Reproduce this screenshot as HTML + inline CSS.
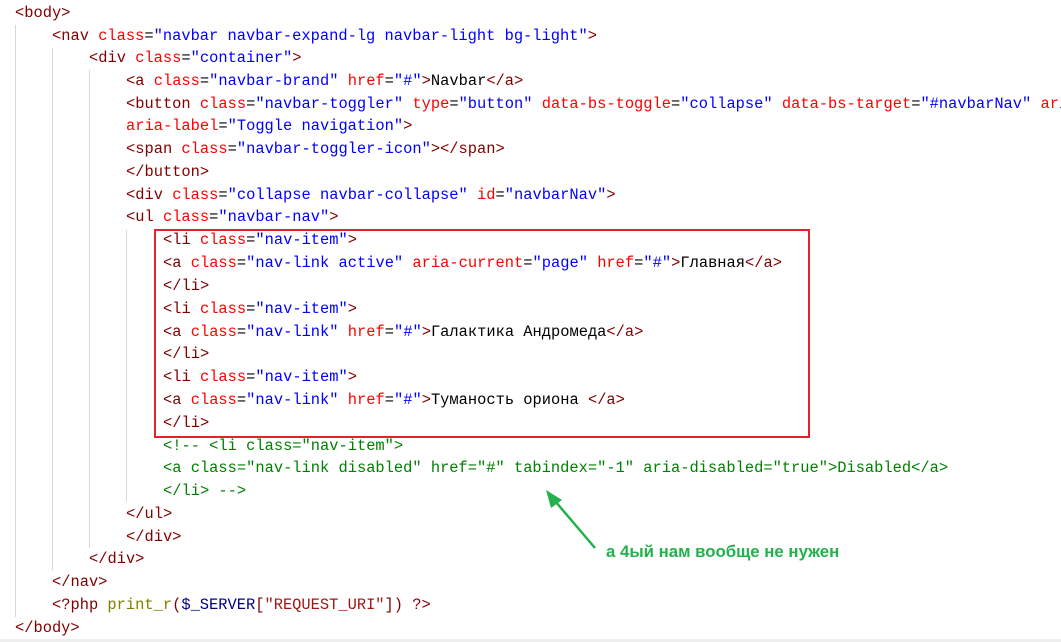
<!DOCTYPE html>
<html><head><meta charset="utf-8"><style>
html,body{margin:0;width:1061px;height:642px;overflow:hidden}
body{background:#fff;position:relative;font-family:"Liberation Mono","DejaVu Sans Mono",monospace;font-size:15.4px}
.l{position:absolute;white-space:pre;height:22px;line-height:22px;overflow:hidden}
.t{color:#800000}.a{color:#ff0000}.v{color:#0000ff}.k{color:#000}.c{color:#008000}
.g{position:absolute;width:1px;background:#d8d8d8}
</style></head><body>
<div class="g" style="left:15px;top:25px;height:592px"></div>
<div class="g" style="left:52px;top:48px;height:522px"></div>
<div class="g" style="left:89px;top:70px;height:478px"></div>
<div class="g" style="left:126px;top:230px;height:272px"></div>
<div class="l" style="left:15px;top:2px"><span class="t">&lt;body&gt;</span></div>
<div class="l" style="left:52px;top:25px"><span class="t">&lt;nav </span><span class="a">class</span><span class="k">=</span><span class="v">"navbar navbar-expand-lg navbar-light bg-light"</span><span class="t">&gt;</span></div>
<div class="l" style="left:89px;top:47px"><span class="t">&lt;div </span><span class="a">class</span><span class="k">=</span><span class="v">"container"</span><span class="t">&gt;</span></div>
<div class="l" style="left:126px;top:70px"><span class="t">&lt;a </span><span class="a">class</span><span class="k">=</span><span class="v">"navbar-brand"</span> <span class="a">href</span><span class="k">=</span><span class="v">"#"</span><span class="t">&gt;</span><span class="k">Navbar</span><span class="t">&lt;/a&gt;</span></div>
<div class="l" style="left:126px;top:93px;width:935px"><span class="t">&lt;button </span><span class="a">class</span><span class="k">=</span><span class="v">"navbar-toggler"</span> <span class="a">type</span><span class="k">=</span><span class="v">"button"</span> <span class="a">data-bs-toggle</span><span class="k">=</span><span class="v">"collapse"</span> <span class="a">data-bs-target</span><span class="k">=</span><span class="v">"#navbarNav"</span> <span class="a">aria-controls</span></div>
<div class="l" style="left:126px;top:115px"><span class="a">aria-label</span><span class="k">=</span><span class="v">"Toggle navigation"</span><span class="t">&gt;</span></div>
<div class="l" style="left:126px;top:138px"><span class="t">&lt;span </span><span class="a">class</span><span class="k">=</span><span class="v">"navbar-toggler-icon"</span><span class="t">&gt;&lt;/span&gt;</span></div>
<div class="l" style="left:126px;top:161px"><span class="t">&lt;/button&gt;</span></div>
<div class="l" style="left:126px;top:184px"><span class="t">&lt;div </span><span class="a">class</span><span class="k">=</span><span class="v">"collapse navbar-collapse"</span> <span class="a">id</span><span class="k">=</span><span class="v">"navbarNav"</span><span class="t">&gt;</span></div>
<div class="l" style="left:126px;top:206px"><span class="t">&lt;ul </span><span class="a">class</span><span class="k">=</span><span class="v">"navbar-nav"</span><span class="t">&gt;</span></div>
<div class="l" style="left:163px;top:229px"><span class="t">&lt;li </span><span class="a">class</span><span class="k">=</span><span class="v">"nav-item"</span><span class="t">&gt;</span></div>
<div class="l" style="left:163px;top:252px"><span class="t">&lt;a </span><span class="a">class</span><span class="k">=</span><span class="v">"nav-link active"</span> <span class="a">aria-current</span><span class="k">=</span><span class="v">"page"</span> <span class="a">href</span><span class="k">=</span><span class="v">"#"</span><span class="t">&gt;</span><span class="k">Главная</span><span class="t">&lt;/a&gt;</span></div>
<div class="l" style="left:163px;top:275px"><span class="t">&lt;/li&gt;</span></div>
<div class="l" style="left:163px;top:298px"><span class="t">&lt;li </span><span class="a">class</span><span class="k">=</span><span class="v">"nav-item"</span><span class="t">&gt;</span></div>
<div class="l" style="left:163px;top:321px"><span class="t">&lt;a </span><span class="a">class</span><span class="k">=</span><span class="v">"nav-link"</span> <span class="a">href</span><span class="k">=</span><span class="v">"#"</span><span class="t">&gt;</span><span class="k">Галактика Андромеда</span><span class="t">&lt;/a&gt;</span></div>
<div class="l" style="left:163px;top:343px"><span class="t">&lt;/li&gt;</span></div>
<div class="l" style="left:163px;top:366px"><span class="t">&lt;li </span><span class="a">class</span><span class="k">=</span><span class="v">"nav-item"</span><span class="t">&gt;</span></div>
<div class="l" style="left:163px;top:389px"><span class="t">&lt;a </span><span class="a">class</span><span class="k">=</span><span class="v">"nav-link"</span> <span class="a">href</span><span class="k">=</span><span class="v">"#"</span><span class="t">&gt;</span><span class="k">Туманость ориона </span><span class="t">&lt;/a&gt;</span></div>
<div class="l" style="left:163px;top:412px"><span class="t">&lt;/li&gt;</span></div>
<div class="l c" style="left:163px;top:435px">&lt;!-- &lt;li class="nav-item"&gt;</div>
<div class="l c" style="left:163px;top:457px">&lt;a class="nav-link disabled" href="#" tabindex="-1" aria-disabled="true"&gt;Disabled&lt;/a&gt;</div>
<div class="l c" style="left:163px;top:480px">&lt;/li&gt; --&gt;</div>
<div class="l" style="left:126px;top:503px"><span class="t">&lt;/ul&gt;</span></div>
<div class="l" style="left:126px;top:526px"><span class="t">&lt;/div&gt;</span></div>
<div class="l" style="left:89px;top:548px"><span class="t">&lt;/div&gt;</span></div>
<div class="l" style="left:52px;top:571px"><span class="t">&lt;/nav&gt;</span></div>
<div class="l" style="left:52px;top:594px"><span class="t">&lt;?php </span><span style="color:#808000">print_r</span><span class="t">(</span><span style="color:#000080">$_SERVER</span><span class="t">[</span><span style="color:#a31515">"REQUEST_URI"</span><span class="t">]) ?&gt;</span></div>
<div class="l" style="left:15px;top:617px"><span class="t">&lt;/body&gt;</span></div>
<div style="position:absolute;left:154px;top:229px;width:652px;height:205px;border:2px solid #e8202a"></div>
<svg style="position:absolute;left:0;top:0" width="1061" height="642">
<line x1="595" y1="548" x2="555" y2="501" stroke="#22b14c" stroke-width="2.5"/>
<polygon points="546,490 562,500 551,508" fill="#22b14c"/>
<rect x="0" y="639" width="1061" height="3" fill="#eee"/>
</svg>
<div style="position:absolute;left:606px;top:541px;font-family:'Liberation Sans','DejaVu Sans',sans-serif;font-weight:bold;font-size:16.8px;color:#22b14c;white-space:pre;line-height:22px">а 4ый нам вообще не нужен</div>
</body></html>
